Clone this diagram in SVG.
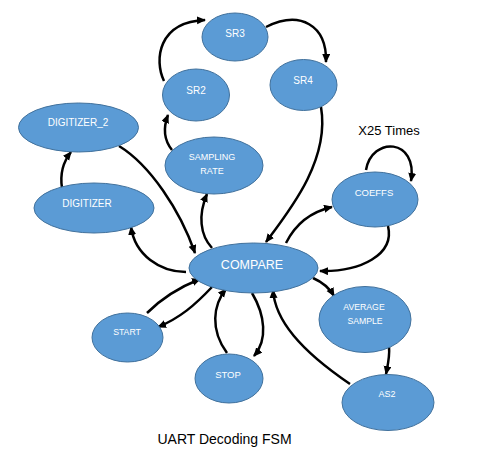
<svg xmlns="http://www.w3.org/2000/svg" width="477" height="455" viewBox="0 0 477 455">
<style>
.n ellipse{fill:#5B9BD5;stroke:#41719C;stroke-width:1}
.n text{fill:#fff;font-family:"Liberation Sans",Arial,sans-serif;text-anchor:middle}
.e path{fill:none;stroke:#000;stroke-width:2.5;marker-end:url(#ah)}
.lbl{fill:#000;font-family:"Liberation Sans",Arial,sans-serif;text-anchor:middle}
</style>
<defs>
<marker id="ah" markerWidth="10" markerHeight="10" refX="8" refY="4" orient="auto" markerUnits="userSpaceOnUse">
<path d="M0,0 L9,4 L0,8 z" fill="#000"/>
</marker>
</defs>
<rect width="477" height="455" fill="#fff"/>
<g id="connectors" class="e">
<path d="M164,81 C154,60 158,22 205,20"/>
<path d="M266,27 C300,10 327,25 326,62"/>
<path d="M172,150 C164,140 163,128 168,115"/>
<path d="M62,188 C60,175 63,162 71,152"/>
<path d="M119,146 C150,165 180,210 195,253"/>
<path d="M186,272 C160,272 135,255 131,227"/>
<path d="M212,248 C200,235 198,215 207,194"/>
<path d="M321,107 C330,160 290,210 266,242"/>
<path d="M286,243 C295,225 310,212 332,207"/>
<path d="M388,226 C395,255 360,272 320,271"/>
<path d="M366,170 C372,136 418,138 411,181"/>
<path d="M313,278 C322,282 330,289 334,296"/>
<path d="M389,347 C390,356 388,364 386,374"/>
<path d="M350,384 C300,350 275,320 273,290"/>
<path d="M227,353 C210,330 213,305 226,289"/>
<path d="M252,293 C265,315 268,340 254,356"/>
<path d="M147,313 C160,300 180,287 200,279"/>
<path d="M212,287 C195,305 180,318 158,327"/>
</g>
<g id="SR3" class="n"><ellipse cx="235" cy="37" rx="33" ry="24"/><text x="235" y="37" font-size="10">SR3</text></g>
<g id="SR4" class="n"><ellipse cx="303.5" cy="85" rx="33.5" ry="25.5"/><text x="303" y="84" font-size="10">SR4</text></g>
<g id="SR2" class="n"><ellipse cx="196" cy="95" rx="33.5" ry="26"/><text x="196" y="94" font-size="10">SR2</text></g>
<g id="DIGITIZER_2" class="n"><ellipse cx="78.5" cy="127.5" rx="60" ry="24.5"/><text x="78" y="126" font-size="10">DIGITIZER_2</text></g>
<g id="SAMPLING_RATE" class="n"><ellipse cx="214" cy="165.5" rx="49" ry="28.5"/><text x="212" y="160" font-size="9">SAMPLING</text><text x="212" y="174" font-size="9">RATE</text></g>
<g id="DIGITIZER" class="n"><ellipse cx="94" cy="208" rx="60" ry="25"/><text x="87" y="207" font-size="10">DIGITIZER</text></g>
<g id="COMPARE" class="n"><ellipse cx="253.5" cy="268" rx="64.5" ry="25"/><text x="252" y="269" font-size="12.5">COMPARE</text></g>
<g id="COEFFS" class="n"><ellipse cx="375" cy="199.5" rx="43" ry="27.5"/><text x="374" y="196" font-size="9.5">COEFFS</text></g>
<g id="AVERAGE_SAMPLE" class="n"><ellipse cx="365" cy="319.5" rx="46" ry="33"/><text x="364" y="310" font-size="8.7">AVERAGE</text><text x="365" y="324" font-size="8.7">SAMPLE</text></g>
<g id="AS2" class="n"><ellipse cx="388" cy="402.5" rx="46" ry="28"/><text x="387" y="397" font-size="9">AS2</text></g>
<g id="START" class="n"><ellipse cx="127.5" cy="337.5" rx="35.5" ry="24.5"/><text x="127" y="335" font-size="8.7">START</text></g>
<g id="STOP" class="n"><ellipse cx="229" cy="378.5" rx="34" ry="24.5"/><text x="228" y="377.5" font-size="9.5">STOP</text></g>
<text class="lbl" x="389" y="134.5" font-size="13">X25 Times</text>
<text class="lbl" x="224.5" y="443.5" font-size="14">UART Decoding FSM</text>
</svg>
